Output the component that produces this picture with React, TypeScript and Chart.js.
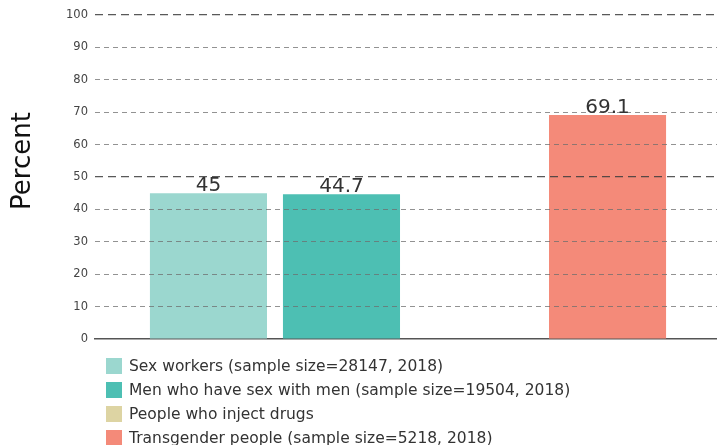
import React, { useEffect, useRef } from "react";
import { Chart, registerables } from "chart.js";

Chart.register(...registerables);

const categories = [""];
const seriesNames = [
  "Sex workers (sample size=28147, 2018)",
  "Men who have sex with men (sample size=19504, 2018)",
  "People who inject drugs",
  "Transgender people (sample size=5218, 2018)",
];
const sexWorkers = [45];
const msm = [44.7];
const pwid: (number | null)[] = [null];
const transgender = [69.1];
const seriesColors = ["#9bd7cf", "#4dbfb3", "#ddd4a3", "#f48a79"];
const yTicks = [0, 10, 20, 30, 40, 50, 60, 70, 80, 90, 100];
const yTitle = "Percent";

const FONT = "'DejaVu Sans', sans-serif";

const valueLabels = {
  id: "valueLabels",
  afterDraw(chart: any) {
    const ctx = chart.ctx;
    ctx.save();
    ctx.font = `20px ${FONT}`;
    ctx.fillStyle = "#333";
    ctx.textAlign = "center";
    ctx.textBaseline = "alphabetic";
    chart.data.datasets.forEach((ds: any, i: number) => {
      const meta = chart.getDatasetMeta(i);
      meta.data.forEach((el: any, j: number) => {
        const v = ds.data[j];
        if (v === null || v === undefined) return;
        ctx.fillText(String(v), el.x, el.y - 2);
      });
    });
    ctx.restore();
  },
};

const axisTitle = {
  id: "axisTitle",
  afterDraw(chart: any) {
    const ctx = chart.ctx;
    ctx.save();
    ctx.translate(23, 161);
    ctx.rotate(-Math.PI / 2);
    ctx.font = `26px ${FONT}`;
    ctx.fillStyle = "#111";
    ctx.textAlign = "center";
    ctx.textBaseline = "middle";
    ctx.fillText(yTitle, 0, 0);
    ctx.restore();
  },
};

const customLegend = {
  id: "customLegend",
  afterDraw(chart: any) {
    const ctx = chart.ctx;
    ctx.save();
    ctx.font = `15.5px ${FONT}`;
    ctx.textAlign = "left";
    ctx.textBaseline = "middle";
    chart.data.datasets.forEach((ds: any, i: number) => {
      const top = 358 + i * 24;
      ctx.fillStyle = ds.backgroundColor;
      ctx.fillRect(106, top, 16, 16);
      ctx.fillStyle = "#333";
      ctx.fillText(ds.label, 129, top + 8.5);
    });
    ctx.restore();
  },
};

export default function App() {
  const ref = useRef<HTMLCanvasElement>(null);
  useEffect(() => {
    document.body.style.margin = "0";
    document.body.style.overflow = "hidden";
    document.documentElement.style.overflow = "hidden";
    const chart = new Chart(ref.current!, {
      type: "bar",
      data: {
        labels: categories,
        datasets: [sexWorkers, msm, pwid, transgender].map((d, i) => ({
          label: seriesNames[i],
          data: d,
          backgroundColor: seriesColors[i],
          borderWidth: 0,
          categoryPercentage: 0.85,
          barPercentage: 0.88,
        })),
      },
      options: {
        responsive: false,
        animation: false,
        layout: { padding: { top: 15, bottom: 106, left: 0, right: 0 } },
        plugins: { legend: { display: false }, tooltip: { enabled: false } },
        scales: {
          x: {
            grid: { display: false },
            ticks: { display: false },
            border: { display: true, color: "#555", width: 1.5 },
            afterFit: (s: any) => {
              s.height = 0;
            },
          },
          y: {
            min: 0,
            max: 100,
            afterBuildTicks: (s: any) => {
              s.ticks = yTicks.map((v) => ({ value: v }));
            },
            afterFit: (s: any) => {
              s.width = 95;
            },
            grid: {
              z: 1,
              drawTicks: false,
              color: (c: any) =>
                c.tick && c.tick.value === 0
                  ? "rgba(0,0,0,0)"
                  : c.tick && c.tick.value % 50 === 0
                  ? "rgba(60,60,60,0.85)"
                  : "rgba(110,110,110,0.75)",
              lineWidth: (c: any) => (c.tick && c.tick.value % 50 === 0 ? 1.2 : 1),
            },
            border: {
              display: false,
              dash: (c: any) => (c.tick && c.tick.value % 50 === 0 ? [8, 5] : [5, 4]),
            } as any,
            ticks: {
              padding: 7,
              color: "#444",
              font: { family: FONT, size: 11.5 },
            },
            title: { display: false },
          },
        },
      },
      plugins: [valueLabels, axisTitle, customLegend],
    });
    return () => chart.destroy();
  }, []);
  return (
    <div style={{ width: 717, height: 445, overflow: "hidden" }}>
      <canvas ref={ref} width={721} height={445} />
    </div>
  );
}
